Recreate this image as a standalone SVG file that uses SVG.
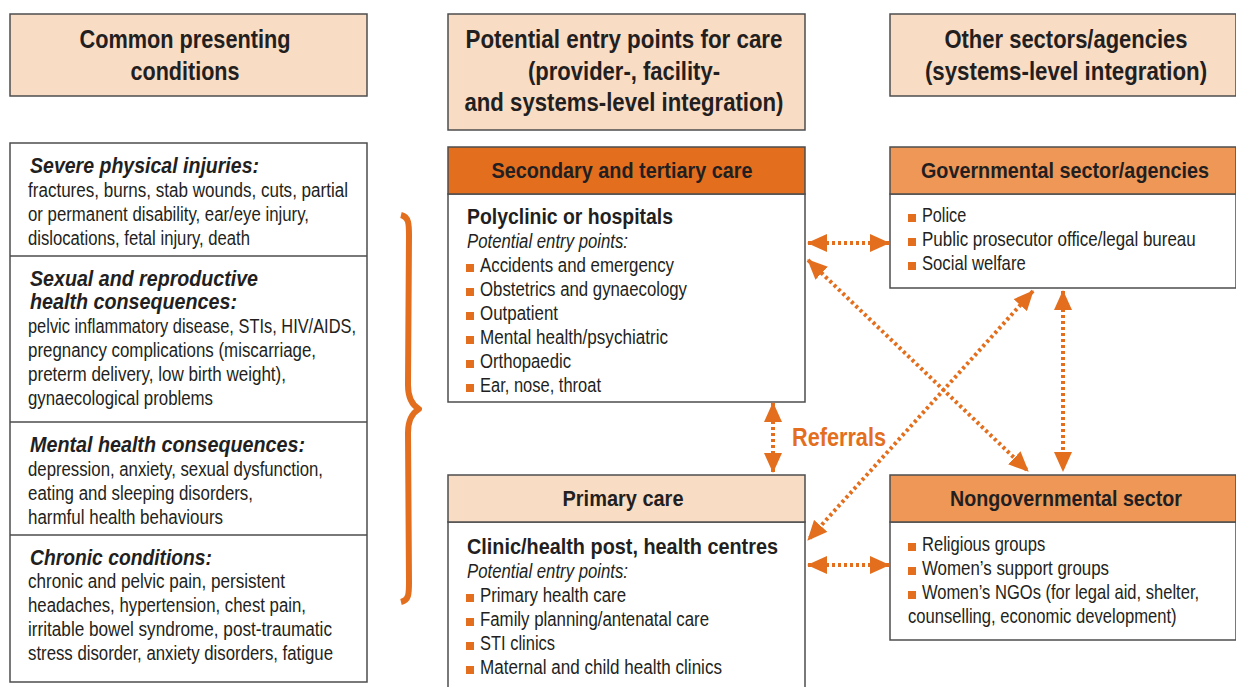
<svg xmlns="http://www.w3.org/2000/svg" width="1236" height="687" viewBox="0 0 1236 687">
<defs>
<style>
text{font-family:"Liberation Sans",Arial,sans-serif;fill:#231F20}
.h{font-size:26px;font-weight:bold;text-anchor:middle}
.hd{font-size:22.5px;font-weight:bold;text-anchor:middle}
.t{font-size:22.5px;font-weight:bold}
.ti{font-size:21.5px;font-weight:bold;font-style:italic}
.b{font-size:19.5px}
.m{font-size:20px}
.i{font-size:20px;font-style:italic}
.box{stroke:#4D4D4D;stroke-width:1.5;fill:#fff}
.peach{fill:#F9DCC4}
.dark{fill:#E36F1E}
.light{fill:#EE9757}
.bul{fill:#E36F1E}
.con{stroke:#E36F1E;stroke-width:4;stroke-dasharray:3 3;fill:none;marker-start:url(#ah);marker-end:url(#ah)}
</style>
<marker id="ah" viewBox="0 0 20 18" refX="19" refY="9" markerWidth="20" markerHeight="18" markerUnits="userSpaceOnUse" orient="auto-start-reverse">
<path d="M0,0 L20,9 L0,18 Z" fill="#E36F1E"/>
</marker>
</defs>

<g id="hdr-conditions">
<rect x="10" y="14" width="357" height="82" class="box peach"/>
<text class="h" x="185" y="48" textLength="211" lengthAdjust="spacingAndGlyphs">Common presenting</text>
<text class="h" x="185" y="80" textLength="109" lengthAdjust="spacingAndGlyphs">conditions</text>
</g>
<g id="hdr-entry">
<rect x="448" y="14" width="357" height="116" class="box peach"/>
<text class="h" x="624" y="48" textLength="317" lengthAdjust="spacingAndGlyphs">Potential entry points for care</text>
<text class="h" x="624" y="80" textLength="192" lengthAdjust="spacingAndGlyphs">(provider-, facility-</text>
<text class="h" x="624" y="111" textLength="319" lengthAdjust="spacingAndGlyphs">and systems-level integration)</text>
</g>
<g id="hdr-sectors">
<rect x="890" y="14" width="346" height="82" class="box peach"/>
<text class="h" transform="translate(1066,48) scale(0.85,1)" textLength="286" lengthAdjust="spacingAndGlyphs">Other sectors/agencies</text>
<text class="h" transform="translate(1066,80) scale(0.85,1)" textLength="332" lengthAdjust="spacingAndGlyphs">(systems-level integration)</text>
</g>

<g id="conditions">
<rect x="10" y="143" width="357" height="539" class="box"/>
<line x1="10" y1="256" x2="367" y2="256" stroke="#4D4D4D" stroke-width="1.5"/>
<line x1="10" y1="422" x2="367" y2="422" stroke="#4D4D4D" stroke-width="1.5"/>
<line x1="10" y1="535" x2="367" y2="535" stroke="#4D4D4D" stroke-width="1.5"/>
<text class="ti" x="30" y="173" textLength="229" lengthAdjust="spacingAndGlyphs">Severe physical injuries:</text>
<text class="b" x="28" y="197" textLength="320" lengthAdjust="spacingAndGlyphs">fractures, burns, stab wounds, cuts, partial</text>
<text class="b" x="28" y="221" textLength="281" lengthAdjust="spacingAndGlyphs">or permanent disability, ear/eye injury,</text>
<text class="b" x="28" y="245" textLength="222" lengthAdjust="spacingAndGlyphs">dislocations, fetal injury, death</text>
<text class="ti" x="30" y="286" textLength="228" lengthAdjust="spacingAndGlyphs">Sexual and reproductive</text>
<text class="ti" x="30" y="309" textLength="207" lengthAdjust="spacingAndGlyphs">health consequences:</text>
<text class="b" x="28" y="333" textLength="328" lengthAdjust="spacingAndGlyphs">pelvic inflammatory disease, STIs, HIV/AIDS,</text>
<text class="b" x="28" y="357" textLength="288" lengthAdjust="spacingAndGlyphs">pregnancy complications (miscarriage,</text>
<text class="b" x="28" y="381" textLength="258" lengthAdjust="spacingAndGlyphs">preterm delivery, low birth weight),</text>
<text class="b" x="28" y="405" textLength="185" lengthAdjust="spacingAndGlyphs">gynaecological problems</text>
<text class="ti" x="30" y="452" textLength="275" lengthAdjust="spacingAndGlyphs">Mental health consequences:</text>
<text class="b" x="28" y="476" textLength="295" lengthAdjust="spacingAndGlyphs">depression, anxiety, sexual dysfunction,</text>
<text class="b" x="28" y="500" textLength="225" lengthAdjust="spacingAndGlyphs">eating and sleeping disorders,</text>
<text class="b" x="28" y="524" textLength="195" lengthAdjust="spacingAndGlyphs">harmful health behaviours</text>
<text class="ti" x="30" y="565" textLength="182" lengthAdjust="spacingAndGlyphs">Chronic conditions:</text>
<text class="b" x="28" y="588" textLength="257" lengthAdjust="spacingAndGlyphs">chronic and pelvic pain, persistent</text>
<text class="b" x="28" y="612" textLength="278" lengthAdjust="spacingAndGlyphs">headaches, hypertension, chest pain,</text>
<text class="b" x="28" y="636" textLength="304" lengthAdjust="spacingAndGlyphs">irritable bowel syndrome, post-traumatic</text>
<text class="b" x="28" y="660" textLength="305" lengthAdjust="spacingAndGlyphs">stress disorder, anxiety disorders, fatigue</text>
</g>

<g id="brace">
<path d="M401,215 C409,217 409,224 409,236 L408,385 C408,398 412,405 419,409 C412,413 408,420 408,433 L409,582 C409,594 409,600 401,602" fill="none" stroke="#E36F1E" stroke-width="6" stroke-linejoin="round"/>
</g>

<g id="secondary">
<rect x="448" y="194" width="357" height="208" class="box"/>
<rect x="448" y="147" width="357" height="47" class="box dark"/>
<text class="hd" x="622" y="178" textLength="261" lengthAdjust="spacingAndGlyphs">Secondary and tertiary care</text>
<text class="t" x="467" y="224" textLength="206" lengthAdjust="spacingAndGlyphs">Polyclinic or hospitals</text>
<text class="i" x="467" y="248" textLength="161" lengthAdjust="spacingAndGlyphs">Potential entry points:</text>
<rect x="466" y="264" width="8" height="8" class="bul"/><text class="m" x="480" y="272" textLength="194" lengthAdjust="spacingAndGlyphs">Accidents and emergency</text>
<rect x="466" y="288" width="8" height="8" class="bul"/><text class="m" x="480" y="296" textLength="207" lengthAdjust="spacingAndGlyphs">Obstetrics and gynaecology</text>
<rect x="466" y="312" width="8" height="8" class="bul"/><text class="m" x="480" y="320" textLength="78" lengthAdjust="spacingAndGlyphs">Outpatient</text>
<rect x="466" y="336" width="8" height="8" class="bul"/><text class="m" x="480" y="344" textLength="188" lengthAdjust="spacingAndGlyphs">Mental health/psychiatric</text>
<rect x="466" y="360" width="8" height="8" class="bul"/><text class="m" x="480" y="368" textLength="91" lengthAdjust="spacingAndGlyphs">Orthopaedic</text>
<rect x="466" y="384" width="8" height="8" class="bul"/><text class="m" x="480" y="392" textLength="121" lengthAdjust="spacingAndGlyphs">Ear, nose, throat</text>
</g>

<g id="primary">
<rect x="448" y="522" width="357" height="175" class="box"/>
<rect x="448" y="475" width="357" height="47" class="box peach"/>
<text class="hd" x="623" y="506" textLength="121" lengthAdjust="spacingAndGlyphs">Primary care</text>
<text class="t" x="467" y="554" textLength="311" lengthAdjust="spacingAndGlyphs">Clinic/health post, health centres</text>
<text class="i" x="467" y="578" textLength="161" lengthAdjust="spacingAndGlyphs">Potential entry points:</text>
<rect x="466" y="594" width="8" height="8" class="bul"/><text class="m" x="480" y="602" textLength="146" lengthAdjust="spacingAndGlyphs">Primary health care</text>
<rect x="466" y="618" width="8" height="8" class="bul"/><text class="m" x="480" y="626" textLength="229" lengthAdjust="spacingAndGlyphs">Family planning/antenatal care</text>
<rect x="466" y="642" width="8" height="8" class="bul"/><text class="m" x="480" y="650" textLength="75" lengthAdjust="spacingAndGlyphs">STI clinics</text>
<rect x="466" y="666" width="8" height="8" class="bul"/><text class="m" x="480" y="674" textLength="242" lengthAdjust="spacingAndGlyphs">Maternal and child health clinics</text>
</g>

<g id="governmental">
<rect x="890" y="194" width="346" height="94" class="box"/>
<rect x="890" y="147" width="346" height="47" class="box light"/>
<text class="hd" transform="translate(1065,178) scale(0.85,1)" textLength="339" lengthAdjust="spacingAndGlyphs">Governmental sector/agencies</text>
<rect x="908" y="214" width="8" height="8" class="bul"/><text class="m" transform="translate(922,222) scale(0.85,1)" textLength="52" lengthAdjust="spacingAndGlyphs">Police</text>
<rect x="908" y="238" width="8" height="8" class="bul"/><text class="m" transform="translate(922,246) scale(0.85,1)" textLength="322" lengthAdjust="spacingAndGlyphs">Public prosecutor office/legal bureau</text>
<rect x="908" y="262" width="8" height="8" class="bul"/><text class="m" transform="translate(922,270) scale(0.85,1)" textLength="122" lengthAdjust="spacingAndGlyphs">Social welfare</text>
</g>

<g id="nongovernmental">
<rect x="890" y="522" width="346" height="118" class="box"/>
<rect x="890" y="475" width="346" height="47" class="box light"/>
<text class="hd" transform="translate(1066,506) scale(0.85,1)" textLength="273" lengthAdjust="spacingAndGlyphs">Nongovernmental sector</text>
<rect x="908" y="543" width="8" height="8" class="bul"/><text class="m" transform="translate(922,551) scale(0.85,1)" textLength="145" lengthAdjust="spacingAndGlyphs">Religious groups</text>
<rect x="908" y="567" width="8" height="8" class="bul"/><text class="m" transform="translate(922,575) scale(0.85,1)" textLength="220" lengthAdjust="spacingAndGlyphs">Women’s support groups</text>
<rect x="908" y="591" width="8" height="8" class="bul"/><text class="m" transform="translate(922,599) scale(0.85,1)" textLength="326" lengthAdjust="spacingAndGlyphs">Women’s NGOs (for legal aid, shelter,</text>
<text class="m" transform="translate(908,623) scale(0.85,1)" textLength="316" lengthAdjust="spacingAndGlyphs">counselling, economic development)</text>
</g>

<g id="connectors">
<line class="con" x1="808" y1="243" x2="889" y2="243"/>
<line class="con" x1="808" y1="565" x2="889" y2="565"/>
<line class="con" x1="773" y1="403" x2="773" y2="472"/>
<line class="con" x1="1063" y1="291" x2="1063" y2="471"/>
<line class="con" x1="808" y1="260" x2="1028" y2="471"/>
<line class="con" x1="1033" y1="291" x2="808" y2="540"/>
<text x="792" y="446" textLength="94" lengthAdjust="spacingAndGlyphs" style="font-size:25px;font-weight:bold;fill:#E36F1E">Referrals</text>
</g>
</svg>
